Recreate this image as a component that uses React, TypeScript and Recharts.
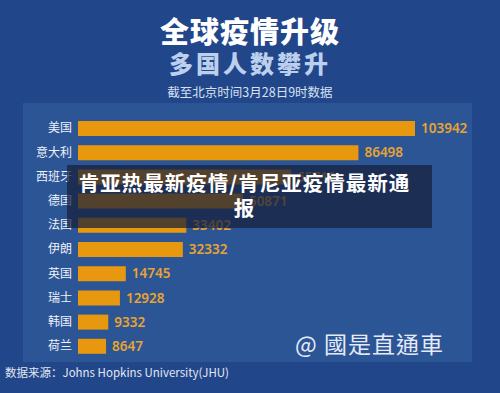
import React from "react";
import { BarChart, Bar, XAxis, YAxis, LabelList, Cell } from "recharts";

const countries = ["美国", "意大利", "西班牙", "德国", "法国", "伊朗", "英国", "瑞士", "韩国", "荷兰"];
const cases = [103942, 86498, 65719, 50871, 33402, 32332, 14745, 12928, 9332, 8647];

const data = countries.map((name, i) => ({ name, value: cases[i] }));

const BAR = "#e8980e";
const LABEL = "#e9a430";
const CJK = '"Noto Sans CJK SC", "Noto Sans", sans-serif';

export default function App() {
  return (
    <div
      style={{
        position: "absolute",
        left: 0,
        top: 0,
        width: 500,
        height: 393,
        background: "#22468a",
        overflow: "hidden",
        fontFamily: CJK,
      }}
    >
      {/* headline block */}
      <div
        style={{
          position: "absolute",
          top: 15,
          width: 500,
          textAlign: "center",
          color: "#ffffff",
          fontSize: 29,
          fontWeight: 900,
          letterSpacing: 1,
          lineHeight: "30px",
        }}
      >
        全球疫情升级
      </div>
      <div
        style={{
          position: "absolute",
          top: 50,
          width: 500,
          textAlign: "center",
          color: "#bcd0ee",
          fontSize: 24,
          fontWeight: 900,
          letterSpacing: 3,
          lineHeight: "25px",
        }}
      >
        多国人数攀升
      </div>
      <div
        style={{
          position: "absolute",
          top: 84,
          width: 500,
          textAlign: "center",
          color: "#d6e0f0",
          fontSize: 12.5,
          lineHeight: "16px",
        }}
      >
        截至北京时间3月28日9时数据
      </div>

      {/* chart panel */}
      <div
        style={{
          position: "absolute",
          left: 23,
          top: 103,
          width: 449,
          height: 259,
          background: "#2c5596",
        }}
      />

      <div style={{ position: "absolute", left: 0, top: 116 }}>
        <BarChart
          width={500}
          height={242}
          data={data}
          layout="vertical"
          margin={{ top: 0, right: 85, bottom: 0, left: 0 }}
          barCategoryGap={0}
        >
          <XAxis type="number" domain={[0, 103942]} hide />
          <YAxis
            type="category"
            dataKey="name"
            width={78}
            axisLine={false}
            tickLine={false}
            tickSize={0}
            tickMargin={6}
            tick={{ fill: "#eef2fa", fontSize: 12, fontFamily: CJK }}
          />
          <Bar dataKey="value" barSize={15} isAnimationActive={false}>
            {data.map((d) => (
              <Cell key={d.name} fill={BAR} />
            ))}
            <LabelList
              dataKey="value"
              position="right"
              offset={6}
              fill={LABEL}
              fontSize={13.5}
              fontWeight={600}
              fontFamily='"Noto Sans", sans-serif'
            />
          </Bar>
        </BarChart>
      </div>

      {/* watermark */}
      <div
        style={{
          position: "absolute",
          left: 295,
          top: 330,
          color: "#e4ebf6",
          fontSize: 23,
          fontFamily: '"Noto Sans CJK TC", serif',
          letterSpacing: 1,
          lineHeight: "26px",
        }}
      >
        @ 國是直通車
      </div>

      {/* source */}
      <div
        style={{
          position: "absolute",
          left: 5,
          top: 364,
          color: "#e0e6f0",
          fontSize: 11.5,
          lineHeight: "16px",
        }}
      >
        数据来源：Johns Hopkins University(JHU)
      </div>

      {/* caption banner */}
      <div
        style={{
          position: "absolute",
          left: 67,
          top: 165,
          width: 365,
          height: 63,
          background: "rgba(22, 32, 58, 0.72)",
        }}
      />
      <div
        style={{
          position: "absolute",
          left: 67,
          top: 170,
          width: 345,
          paddingLeft: 5,
          textAlign: "center",
          color: "#ffffff",
          fontSize: 20.5,
          fontWeight: 700,
          letterSpacing: 1,
          lineHeight: "25px",
        }}
      >
        肯亚热最新疫情/肯尼亚疫情最新通
        <br />
        报
      </div>
    </div>
  );
}
